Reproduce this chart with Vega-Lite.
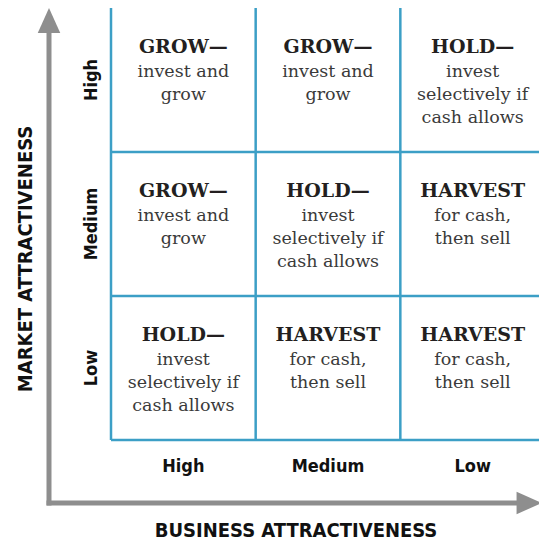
{
  "$schema": "https://vega.github.io/schema/vega-lite/v6.json",
  "width": 539,
  "height": 542,
  "padding": 0,
  "autosize": {"type": "none"},
  "background": "white",
  "config": {"view": {"stroke": null}},
  "datasets": {
    "cells": [
      {"x": 0.5, "y": 3, "title": "GROW—", "body": ["invest and", "grow"]},
      {"x": 1.5, "y": 3, "title": "GROW—", "body": ["invest and", "grow"]},
      {"x": 2.5, "y": 3, "title": "HOLD—", "body": ["invest", "selectively if", "cash allows"]},
      {"x": 0.5, "y": 2, "title": "GROW—", "body": ["invest and", "grow"]},
      {"x": 1.5, "y": 2, "title": "HOLD—", "body": ["invest", "selectively if", "cash allows"]},
      {"x": 2.5, "y": 2, "title": "HARVEST", "body": ["for cash,", "then sell"]},
      {"x": 0.5, "y": 1, "title": "HOLD—", "body": ["invest", "selectively if", "cash allows"]},
      {"x": 1.5, "y": 1, "title": "HARVEST", "body": ["for cash,", "then sell"]},
      {"x": 2.5, "y": 1, "title": "HARVEST", "body": ["for cash,", "then sell"]}
    ],
    "vlines": [
      {"x": 0, "y": 0, "y2": 3},
      {"x": 1, "y": 0, "y2": 3},
      {"x": 2, "y": 0, "y2": 3}
    ],
    "hlines": [
      {"y": 0, "x": 0, "x2": 3.1},
      {"y": 1, "x": 0, "x2": 3.1},
      {"y": 2, "x": 0, "x2": 3.1}
    ],
    "vshaft": [{"x": -0.4286, "y": -0.4375, "y2": 2.85}],
    "hshaft": [{"x": -0.4286, "x2": 2.85, "y": -0.4375}],
    "uphead": [{"x": -0.4286, "y": 2.913}],
    "righthead": [{"x": 2.89, "y": -0.4375}],
    "rowlabels": [
      {"x": -0.1, "y": 2.5, "label": "High"},
      {"x": -0.1, "y": 1.5, "label": "Medium"},
      {"x": -0.1, "y": 0.5, "label": "Low"}
    ],
    "collabels": [
      {"x": 0.5, "y": -0.222, "label": "High"},
      {"x": 1.5, "y": -0.222, "label": "Medium"},
      {"x": 2.5, "y": -0.222, "label": "Low"}
    ],
    "ytitle": [{"x": -0.545, "y": 1.257, "label": "MARKET ATTRACTIVENESS"}],
    "xtitle": [{"x": 1.279, "y": -0.674, "label": "BUSINESS ATTRACTIVENESS"}]
  },
  "encoding": {
    "x": {"field": "x", "type": "quantitative", "axis": null, "scale": {"domain": [-0.7673, 2.9585], "nice": false, "zero": false}},
    "y": {"field": "y", "type": "quantitative", "axis": null, "scale": {"domain": [-0.7083, 3.0556], "nice": false, "zero": false}}
  },
  "layer": [
    {
      "data": {"name": "vlines"},
      "mark": {"type": "rule", "color": "#3c9fc6", "strokeWidth": 2.5},
      "encoding": {"y2": {"field": "y2"}}
    },
    {
      "data": {"name": "hlines"},
      "mark": {"type": "rule", "color": "#3c9fc6", "strokeWidth": 2.5, "clip": true},
      "encoding": {"x2": {"field": "x2"}}
    },
    {
      "data": {"name": "vshaft"},
      "mark": {"type": "rule", "color": "#8e8e8e", "strokeWidth": 5, "strokeCap": "square"},
      "encoding": {"y2": {"field": "y2"}}
    },
    {
      "data": {"name": "hshaft"},
      "mark": {"type": "rule", "color": "#8e8e8e", "strokeWidth": 5, "strokeCap": "square"},
      "encoding": {"x2": {"field": "x2"}}
    },
    {
      "data": {"name": "uphead"},
      "mark": {"type": "point", "shape": "M0,-1L0.9,1L-0.9,1Z", "size": 625, "filled": true, "opacity": 1, "color": "#8e8e8e", "strokeWidth": 0}
    },
    {
      "data": {"name": "righthead"},
      "mark": {"type": "point", "shape": "M1,0L-1,0.9L-1,-0.9Z", "size": 625, "filled": true, "opacity": 1, "color": "#8e8e8e", "strokeWidth": 0}
    },
    {
      "data": {"name": "cells"},
      "mark": {"type": "text", "font": "DejaVu Serif", "fontWeight": "bold", "fontSize": 19, "color": "#231f20", "align": "center", "baseline": "alphabetic", "dy": 45},
      "encoding": {"text": {"field": "title"}}
    },
    {
      "data": {"name": "cells"},
      "mark": {"type": "text", "font": "DejaVu Serif", "fontSize": 17.5, "color": "#3a3a3a", "align": "center", "baseline": "alphabetic", "dy": 69, "lineHeight": 23},
      "encoding": {"text": {"field": "body"}}
    },
    {
      "data": {"name": "rowlabels"},
      "mark": {"type": "text", "font": "DejaVu Sans Condensed", "fontWeight": "bold", "fontSize": 18, "color": "#111111", "align": "center", "baseline": "alphabetic", "angle": 270},
      "encoding": {"text": {"field": "label"}}
    },
    {
      "data": {"name": "collabels"},
      "mark": {"type": "text", "font": "DejaVu Sans Condensed", "fontWeight": "bold", "fontSize": 18, "color": "#111111", "align": "center", "baseline": "alphabetic"},
      "encoding": {"text": {"field": "label"}}
    },
    {
      "data": {"name": "ytitle"},
      "mark": {"type": "text", "font": "DejaVu Sans Condensed", "fontWeight": "bold", "fontSize": 20, "color": "#111111", "align": "center", "baseline": "alphabetic", "angle": 270},
      "encoding": {"text": {"field": "label"}}
    },
    {
      "data": {"name": "xtitle"},
      "mark": {"type": "text", "font": "DejaVu Sans Condensed", "fontWeight": "bold", "fontSize": 20, "color": "#111111", "align": "center", "baseline": "alphabetic"},
      "encoding": {"text": {"field": "label"}}
    }
  ]
}
